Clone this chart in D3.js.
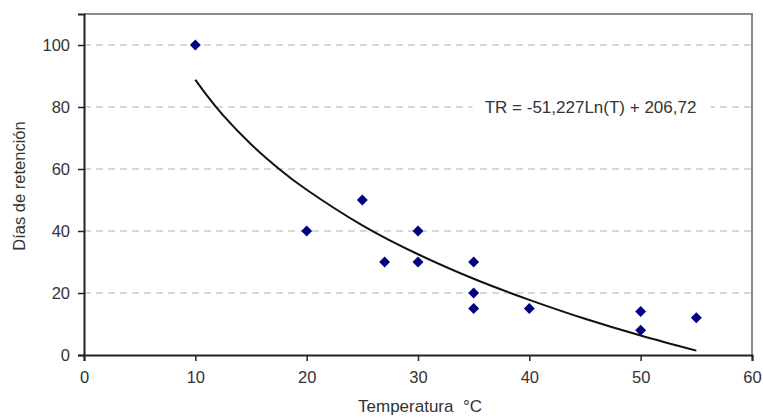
<!DOCTYPE html>
<html>
<head>
<meta charset="utf-8">
<script src="https://cdn.jsdelivr.net/npm/d3@7"></script>
<style>
  body { margin: 0; background: #fff; }
  text { font-family: "Liberation Sans", Arial, sans-serif; fill: #333; }
</style>
</head>
<body>
<div id="chart"></div>
<script>
  // measured points (temperature °C, retention days)
  let temperatures = [10, 20, 25, 27, 30, 30, 35, 35, 35, 40, 50, 50, 55];
  let retentionDays = [100, 40, 50, 30, 40, 30, 30, 20, 15, 15, 14, 8, 12];

  // trendline
  let trendT = [10, 11, 12.5, 15, 17.5, 20, 25, 30, 35, 40, 45, 50, 55];
  let trendTR = [88.8, 83.9, 77.3, 68.0, 60.1, 53.3, 41.8, 32.5, 24.6, 17.8, 11.7, 6.3, 1.4];
  let trendLabel = 'TR = -51,227Ln(T) + 206,72';

  let xTicks = [0, 10, 20, 30, 40, 50, 60];
  let yTicks = [0, 20, 40, 60, 80, 100];

  let width = 763, height = 418,
    margin = {top: 14, left: 84, right: 11, bottom: 63};

  let svg = d3.select('#chart').append('svg')
    .attr('width', width)
    .attr('height', height);

  let xScale = d3.scaleLinear()
    .domain([0, 60])
    .range([margin.left, width - margin.right]);

  let yScale = d3.scaleLinear()
    .domain([0, 110])
    .range([height - margin.bottom, margin.top]);

  // grid
  svg.append('g')
    .selectAll('line')
    .data(yTicks.filter((d) => d > 0))
    .enter()
    .append('line')
    .attr('x1', xScale(0))
    .attr('x2', xScale(60))
    .attr('y1', (d) => yScale(d))
    .attr('y2', (d) => yScale(d))
    .attr('stroke', '#cccccc')
    .attr('stroke-width', 1.6)
    .attr('stroke-dasharray', '7,5');

  // top / right frame
  svg.append('path')
    .attr('d', 'M' + xScale(0) + ',' + yScale(110) + 'H' + xScale(60) + 'V' + yScale(0))
    .attr('fill', 'none')
    .attr('stroke', '#8a8a8a')
    .attr('stroke-width', 2);

  let xAxis = svg.append('g')
    .attr('transform', 'translate(0,' + yScale(0) + ')')
    .call(d3.axisBottom(xScale).tickValues(xTicks).tickSize(6).tickPadding(10).tickFormat(d3.format('d')));

  let yAxis = svg.append('g')
    .attr('transform', 'translate(' + xScale(0) + ',0)')
    .call(d3.axisLeft(yScale).tickValues(yTicks).tickSize(6).tickPadding(8).tickFormat(d3.format('d')));

  [xAxis, yAxis].forEach((ax) => {
    ax.select('.domain').attr('stroke', '#222').attr('stroke-width', 2);
    ax.selectAll('.tick line').attr('stroke', '#222').attr('stroke-width', 1.5);
    ax.selectAll('.tick text')
      .style('font-family', '"Liberation Sans", Arial, sans-serif')
      .style('font-size', '16.5px')
      .attr('fill', '#333');
  });

  // trendline
  let line = d3.line()
    .x((d) => xScale(d[0]))
    .y((d) => yScale(d[1]))
    .curve(d3.curveNatural);

  svg.append('path')
    .datum(d3.zip(trendT, trendTR))
    .attr('d', line)
    .attr('fill', 'none')
    .attr('stroke', '#111')
    .attr('stroke-width', 2);

  // points
  svg.append('g')
    .selectAll('path')
    .data(d3.zip(temperatures, retentionDays))
    .enter()
    .append('path')
    .attr('d', d3.symbol().type(d3.symbolSquare).size(60))
    .attr('transform', (d) => 'translate(' + xScale(d[0]) + ',' + yScale(d[1]) + ') rotate(45)')
    .attr('fill', '#000080');

  // equation label
  let eqGroup = svg.append('g')
    .attr('transform', 'translate(' + xScale(45.5) + ',' + yScale(80) + ')');
  eqGroup.append('rect')
    .attr('x', -118).attr('y', -10)
    .attr('width', 238).attr('height', 20)
    .attr('fill', '#fff');
  eqGroup.append('text')
    .attr('text-anchor', 'middle')
    .attr('dy', '0.35em')
    .style('font-size', '17px')
    .text(trendLabel);

  // axis titles
  svg.append('text')
    .attr('x', 420)
    .attr('y', 412)
    .attr('text-anchor', 'middle')
    .style('font-size', '17px')
    .style('white-space', 'pre')
    .text('Temperatura  °C');

  svg.append('text')
    .attr('transform', 'translate(25,186) rotate(-90)')
    .attr('text-anchor', 'middle')
    .style('font-size', '16.5px')
    .text('Días de retención');
</script>
</body>
</html>
